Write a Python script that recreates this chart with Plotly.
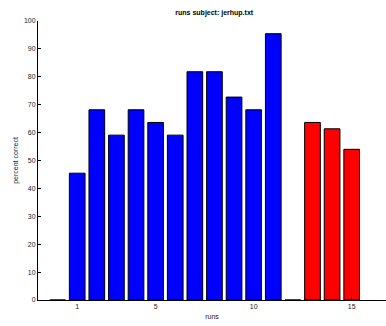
import plotly.graph_objects as go

runs = [0, 1, 2, 3, 4, 5, 6, 7, 8, 9, 10, 11, 12, 13, 14, 15]
percent_correct = [0, 45.45, 68.18, 59.09, 68.18, 63.64, 59.09, 81.82, 81.82, 72.73, 68.18, 95.45, 0, 63.64, 61.36, 54.0]
bar_colors = ["blue"] * 12 + ["blue"] + ["red"] * 3

x_ticks = [1, 5, 10, 15]
y_ticks = list(range(0, 101, 10))

fig = go.Figure()
fig.add_trace(go.Bar(
    x=runs, y=percent_correct,
    marker=dict(color=bar_colors, line=dict(color="black", width=1)),
    width=0.8,
))

font = dict(family="Liberation Sans, Arial, sans-serif", size=7, color="#222222")
fig.update_layout(
    width=386, height=326,
    margin=dict(l=38, r=0, t=21, b=26),
    paper_bgcolor="white", plot_bgcolor="white",
    showlegend=False,
    font=font,
    title=dict(text="<b>runs subject: jerhup.txt</b>", x=0.555, xanchor="center",
               y=0.963, yanchor="middle", font=dict(size=7, family=font["family"], color="black")),
    xaxis=dict(range=[-1, 16.75], tickmode="array", tickvals=x_ticks,
               ticktext=[str(t) for t in x_ticks],
               ticks="inside", ticklen=3, tickcolor="black",
               showline=True, linecolor="black", linewidth=1,
               showgrid=False, zeroline=False,
               title=dict(text="runs", font=dict(size=7), standoff=4)),
    yaxis=dict(range=[0, 100], tickmode="array", tickvals=y_ticks,
               ticks="inside", ticklen=3, tickcolor="black",
               showline=True, linecolor="black", linewidth=1,
               showgrid=False, zeroline=False,
               title=dict(text="percent correct", font=dict(size=7), standoff=4)),
)

fig.write_html("out.html", config={"displayModeBar": False},
               post_script="document.body.style.margin='0';document.body.style.padding='0';")
